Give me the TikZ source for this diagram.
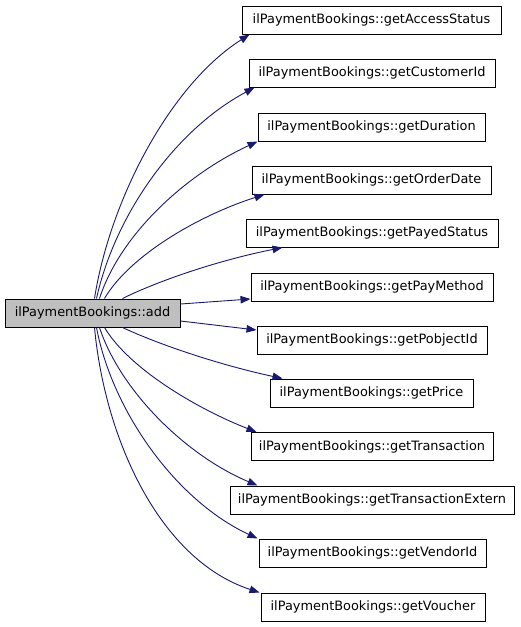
\documentclass[tikz,border=0pt]{standalone}
\usepackage{fontspec}
\setmainfont{DejaVu Sans}
\usetikzlibrary{arrows.meta}
\definecolor{edgecol}{HTML}{191970}
\definecolor{addfill}{HTML}{BFBFBF}
\tikzset{
  fn/.style={draw=black, line width=1pt, fill=white, inner sep=0pt, minimum height=28pt, font=\fontsize{12.9pt}{14pt}\selectfont},
  call/.style={draw=edgecol, line width=0.9pt, -{Triangle[length=10pt,width=7.5pt]}},
}
\begin{document}
\begin{tikzpicture}[x=1pt,y=-1pt]
\useasboundingbox (0,0) rectangle (520,627);
\node[fn, fill=addfill, minimum width=175pt] (add) at (92.5,313) {ilPaymentBookings::add};
\node[fn, minimum width=259pt] (n1) at (371.5,20) {ilPaymentBookings::getAccessStatus};
\node[fn, minimum width=246pt] (n2) at (372,73) {ilPaymentBookings::getCustomerId};
\node[fn, minimum width=227pt] (n3) at (371.5,127) {ilPaymentBookings::getDuration};
\node[fn, minimum width=239pt] (n4) at (371.5,180) {ilPaymentBookings::getOrderDate};
\node[fn, minimum width=252pt] (n5) at (372,233) {ilPaymentBookings::getPayedStatus};
\node[fn, minimum width=242pt] (n6) at (372,287) {ilPaymentBookings::getPayMethod};
\node[fn, minimum width=230pt] (n7) at (372,340) {ilPaymentBookings::getPobjectId};
\node[fn, minimum width=203pt] (n8) at (371.5,393) {ilPaymentBookings::getPrice};
\node[fn, minimum width=242pt] (n9) at (372,446.5) {ilPaymentBookings::getTransaction};
\node[fn, minimum width=284pt] (n10) at (372,500) {ilPaymentBookings::getTransactionExtern};
\node[fn, minimum width=227pt] (n11) at (372.5,553) {ilPaymentBookings::getVendorId};
\node[fn, minimum width=224pt] (n12) at (373,607) {ilPaymentBookings::getVoucher};

\draw[call] (add.north west) ++(90,0) .. controls (110,200) and (170,85) .. ([xshift=8pt]n1.south west);
\draw[call] (add.north west) ++(92,0) .. controls (115,215) and (175,130) .. ([xshift=6pt]n2.south west);
\draw[call] (add.north west) ++(95,0) .. controls (120,235) and (185,175) .. ([xshift=0pt]n3.south west);
\draw[call] (add.north west) ++(100,0) .. controls (130,255) and (200,215) .. ([xshift=13pt]n4.south west);
\draw[call] (add.north west) ++(118,0) .. controls (160,280) and (220,260) .. ([xshift=37pt]n5.south west);
\draw[call] ([yshift=9pt]add.east) -- ([yshift=-12pt]n6.west);
\draw[call] ([yshift=-8pt]add.east) -- ([yshift=10pt]n7.west);
\draw[call] (add.south west) ++(118,0) .. controls (160,345) and (220,365) .. ([xshift=13pt]n8.north west);
\draw[call] (add.south west) ++(100,0) .. controls (130,370) and (200,410) .. ([xshift=6pt]n9.north west);
\draw[call] (add.south west) ++(95,0) .. controls (120,390) and (185,455) .. ([xshift=28pt]n10.north west);
\draw[call] (add.south west) ++(92,0) .. controls (112,410) and (175,500) .. ([xshift=-1pt]n11.north west);
\draw[call] (add.south west) ++(90,0) .. controls (105,440) and (160,560) .. ([xshift=-1pt]n12.north west);
\end{tikzpicture}
\end{document}
